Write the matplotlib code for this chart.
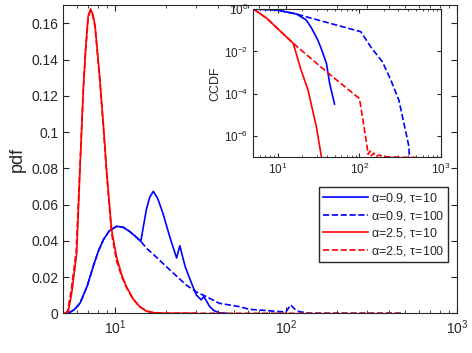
import matplotlib
matplotlib.use('Agg')
import matplotlib.pyplot as plt
import numpy as np

plt.rcParams['font.family'] = ['Liberation Sans', 'DejaVu Sans']
plt.rcParams['mathtext.fontset'] = 'custom'
plt.rcParams['mathtext.rm'] = 'Liberation Sans'
plt.rcParams['mathtext.it'] = 'Liberation Sans:italic'
plt.rcParams['mathtext.cal'] = 'Liberation Sans'
plt.rcParams['mathtext.default'] = 'rm'

# ---- pdf data (main axes) ----
b10_x = [5.34, 5.8, 6.26, 6.9, 7.48, 8.0, 8.58, 9.3, 10.25, 11.2, 12.2, 13.2, 14.2,
         15.3, 16.0, 16.8, 17.8, 19.1, 21.0, 23.0, 24.0, 25.8, 28.0, 30.0, 32.0,
         33.2, 35.9, 38.0, 40.8, 45.0]
b10_y = [0.0, 0.002, 0.0055, 0.015, 0.0258, 0.034, 0.0406, 0.0455, 0.048, 0.0475,
         0.0452, 0.0425, 0.0397, 0.0572, 0.064, 0.0673, 0.0635, 0.0554, 0.042, 0.0305,
         0.0373, 0.0258, 0.017, 0.0101, 0.0074, 0.0092, 0.0037, 0.0015, 0.0003, 0.0]

b100_x = [5.34, 5.8, 6.26, 6.9, 7.48, 8.0, 8.58, 9.3, 10.25, 11.2, 12.2, 13.2, 14.2,
          15.3, 17.5, 20.0, 23.0, 26.1, 30.0, 34.3, 40.9, 53.4, 61.2, 75.0, 91.9,
          100.0, 107.0, 112.0, 120.0, 138.0, 200.0, 300.0, 475.0]
b100_y = [0.0, 0.002, 0.0055, 0.015, 0.0258, 0.034, 0.0406, 0.0455, 0.048, 0.0475,
          0.0452, 0.0425, 0.0397, 0.036, 0.031, 0.0258, 0.0205, 0.0157, 0.0118, 0.0092,
          0.0055, 0.0037, 0.0022, 0.0016, 0.0009, 0.0008, 0.0046, 0.0025, 0.0009, 0.0,
          0.0, 0.0, 0.0]

r10_x = [5.1, 5.35, 5.6, 5.99, 6.26, 6.55, 6.76, 6.99, 7.22, 7.45, 7.67, 8.19, 8.6,
         8.97, 9.59, 10.25, 11.0, 11.7, 12.8, 14.0, 15.3, 16.8, 20.0, 30.0]
r10_y = [0.0, 0.001, 0.011, 0.033, 0.079, 0.124, 0.146, 0.164, 0.168, 0.165, 0.159,
         0.129, 0.103, 0.078, 0.046, 0.031, 0.021, 0.0147, 0.008, 0.0037, 0.0012,
         0.0003, 0.0, 0.0]

r100_x = [5.1, 5.3, 5.55, 5.95, 6.24, 6.55, 6.76, 6.99, 7.22, 7.45, 7.67, 8.19, 8.6,
          8.97, 9.59, 10.25, 11.0, 11.7, 12.8, 14.0, 15.3, 16.8, 20.0, 50.0, 150.0, 475.0]
r100_y = [0.0, 0.001, 0.012, 0.034, 0.078, 0.123, 0.145, 0.163, 0.167, 0.164, 0.158,
          0.128, 0.101, 0.077, 0.044, 0.029, 0.020, 0.0142, 0.0078, 0.0035, 0.0013,
          0.0004, 0.0, 0.0, 0.0, 0.0]

# ---- CCDF data (inset) ----
cb10_x = [5.0, 9.6, 16.9, 22.3, 26.0, 30.9, 35.0, 39.4, 43.1, 49.5]
cb10_y = [1.0, 0.9, 0.58, 0.30, 0.12, 0.034, 0.01, 0.0027, 3.1e-4, 3.3e-5]

cb100_x = [5.0, 9.6, 16.9, 18.5, 104.0, 140.0, 191.0, 240.0, 305.0, 406.0, 410.0]
cb100_y = [1.0, 0.9, 0.58, 0.52, 0.085, 0.015, 0.0033, 5e-4, 5.1e-5, 3.2e-7, 1e-7]

cr10_x = [5.0, 7.3, 15.4, 19.0, 23.4, 29.6, 34.1]
cr10_y = [1.0, 0.36, 0.024, 1.5e-3, 1.5e-4, 2.8e-6, 1.1e-7]

cr100_x = [5.0, 7.3, 15.4, 39.4, 100.0, 109.0, 126.0, 128.0, 135.0, 140.0, 150.0,
           160.0, 175.0, 200.0, 250.0, 320.0, 490.0]
cr100_y = [1.0, 0.36, 0.024, 1.1e-3, 6.0e-5, 8.3e-6, 2.2e-7, 1.4e-7, 2.0e-7, 1.2e-7,
           1.6e-7, 1.1e-7, 1.3e-7, 1.1e-7, 1.05e-7, 1.02e-7, 1e-7]

labels = [r'$\alpha$=0.9, $\tau$=10', r'$\alpha$=0.9, $\tau$=100',
          r'$\alpha$=2.5, $\tau$=10', r'$\alpha$=2.5, $\tau$=100']

tc = '#262626'
fig = plt.figure(figsize=(4.72, 3.53), dpi=100)
ax = fig.add_axes([0.134, 0.1125, 0.834, 0.8725])
lw = 1.2
ax.plot(b10_x, b10_y, '-', color='b', lw=lw, label=labels[0])
ax.plot(b100_x, b100_y, '--', color='b', lw=lw, label=labels[1])
ax.plot(r10_x, r10_y, '-', color='r', lw=lw, label=labels[2])
ax.plot(r100_x, r100_y, '--', color='r', lw=lw, label=labels[3])
ax.set_xscale('log')
ax.set_xlim(5, 1000)
ax.set_ylim(0, 0.17)
ax.set_yticks(np.arange(0, 0.161, 0.02))
ax.set_yticklabels(['0', '0.02', '0.04', '0.06', '0.08', '0.1', '0.12', '0.14', '0.16'])
ax.set_xticks([10, 100, 1000])
ax.set_xticklabels([r'$10^1$', r'$10^2$', r'$10^3$'])
ax.tick_params(which='both', direction='in', top=True, right=True, colors=tc,
               labelsize=10)
ax.tick_params(which='major', length=4)
ax.tick_params(which='minor', length=2)
ax.set_ylabel('pdf', fontsize=13, color=tc)
for s in ax.spines.values():
    s.set_color(tc)
    s.set_linewidth(0.8)
leg = ax.legend(loc='upper right', bbox_to_anchor=(0.977, 0.41), borderaxespad=0,
                fontsize=9, handlelength=3.6, labelspacing=0.3, handletextpad=0.2,
                fancybox=False, framealpha=1, edgecolor=tc, borderpad=0.3)
for t in leg.get_texts():
    t.set_color(tc)

# inset
ins = fig.add_axes([0.537, 0.554, 0.397, 0.4205])
ins.plot(cb10_x, cb10_y, '-', color='b', lw=lw)
ins.plot(cb100_x, cb100_y, '--', color='b', lw=lw)
ins.plot(cr10_x, cr10_y, '-', color='r', lw=lw)
ins.plot(cr100_x, cr100_y, '--', color='r', lw=lw)
ins.set_xscale('log')
ins.set_yscale('log')
ins.set_xlim(5, 1000)
ins.set_ylim(1e-7, 1)
ins.set_yticks([1e-6, 1e-4, 1e-2, 1])
ins.set_yticklabels([r'$10^{-6}$', r'$10^{-4}$', r'$10^{-2}$', r'$10^{0}$'])
ins.set_xticks([10, 100, 1000])
ins.set_xticklabels([r'$10^1$', r'$10^2$', r'$10^3$'])
ins.yaxis.set_minor_locator(matplotlib.ticker.NullLocator())
ins.tick_params(which='both', direction='in', top=True, right=True, colors=tc,
                labelsize=8.5)
ins.tick_params(which='major', length=3)
ins.tick_params(which='minor', length=1.5)
ins.set_ylabel('CCDF', fontsize=9, color=tc, labelpad=2)
for s in ins.spines.values():
    s.set_color(tc)
    s.set_linewidth(0.8)

fig.savefig('out.png', dpi=100)
